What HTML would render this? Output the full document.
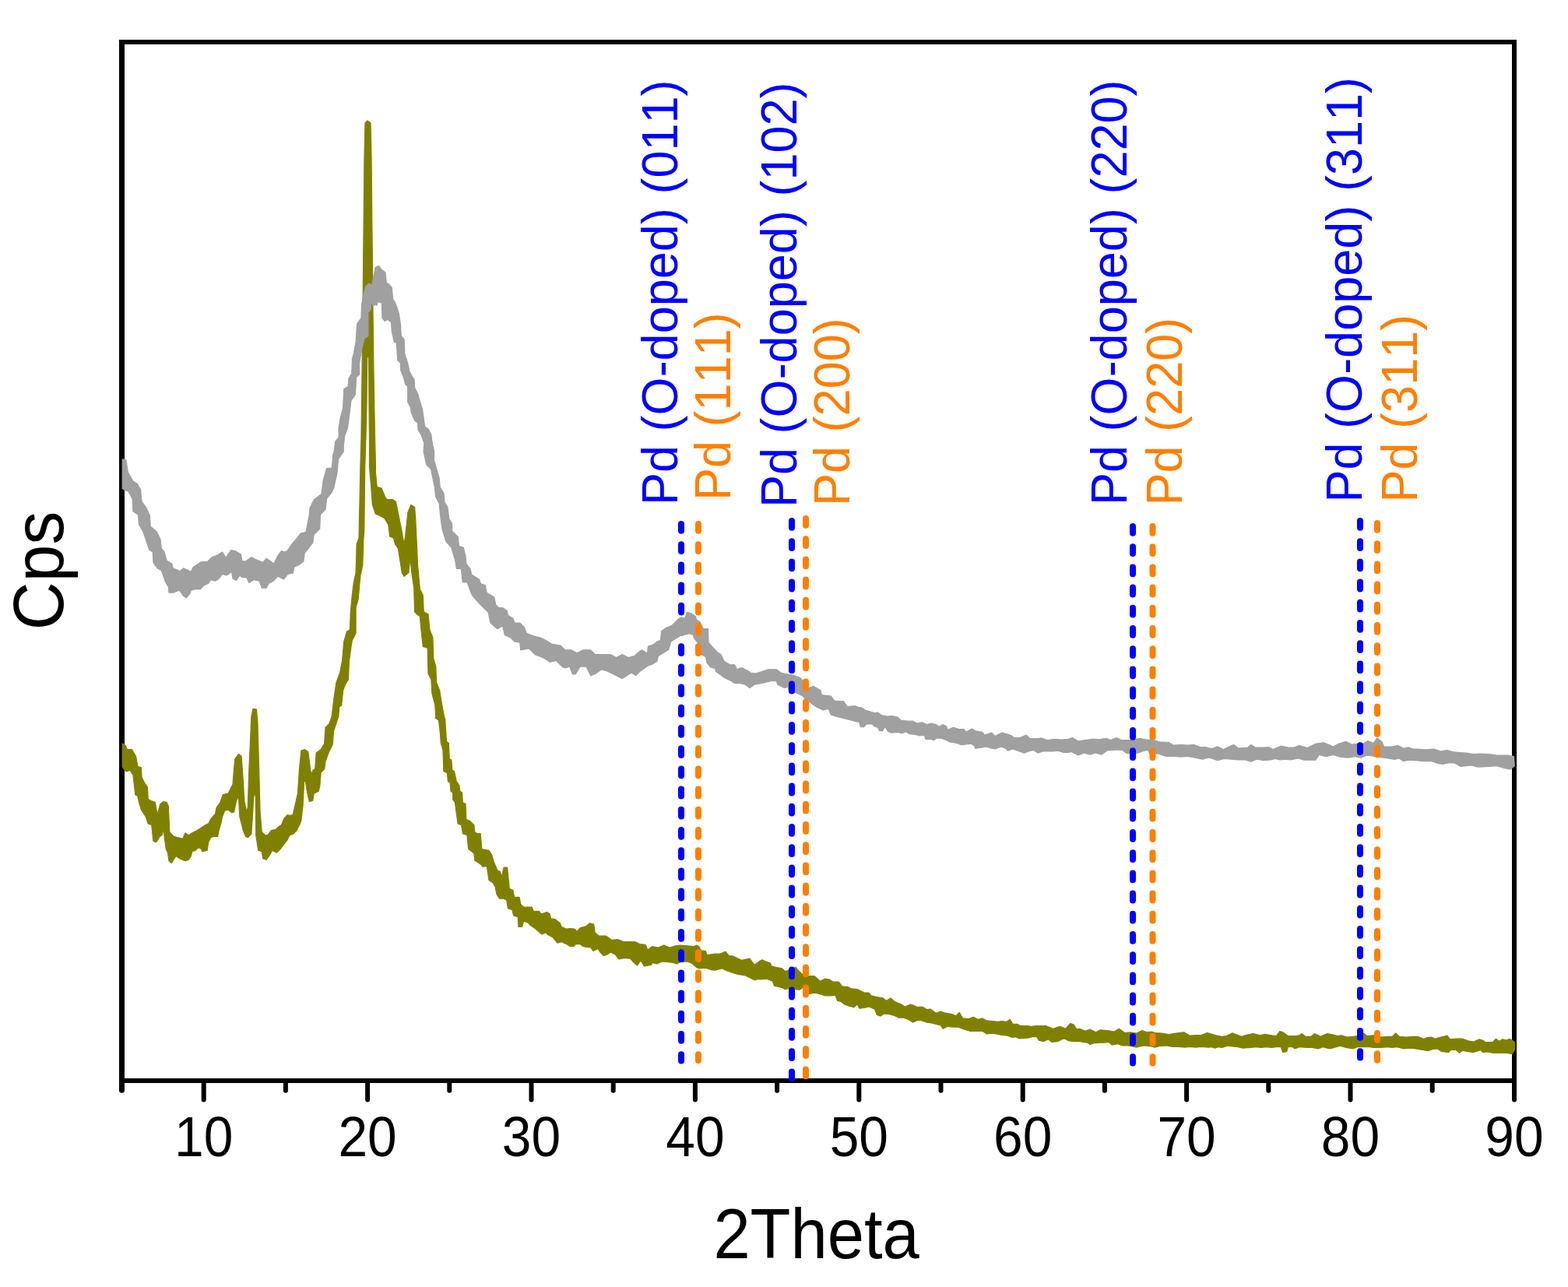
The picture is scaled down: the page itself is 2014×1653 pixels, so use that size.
<!DOCTYPE html>
<html><head><meta charset="utf-8"><title>XRD</title>
<style>
html,body{margin:0;padding:0;background:#fff;}
svg{display:block;}
text{font-family:"Liberation Sans",Arial,Helvetica,sans-serif;font-kerning:none;font-feature-settings:"kern" 0;}
</style></head>
<body>
<svg width="2014" height="1653" viewBox="0 0 2014 1653">
<rect width="2014" height="1653" fill="#fff"/>
<g fill="#000">
<rect x="153" y="51" width="7" height="1340"/>
<rect x="1942" y="51" width="6" height="1340"/>
<rect x="153" y="51" width="1795" height="6"/>
<rect x="153" y="1385" width="1795" height="6"/>
</g>
<g stroke="#000" stroke-width="6" stroke-linecap="round">
<line x1="261.70" y1="1388" x2="261.70" y2="1412.6"/><line x1="366.90" y1="1388" x2="366.90" y2="1400.7"/><line x1="472.10" y1="1388" x2="472.10" y2="1412.6"/><line x1="577.30" y1="1388" x2="577.30" y2="1400.7"/><line x1="682.50" y1="1388" x2="682.50" y2="1412.6"/><line x1="787.70" y1="1388" x2="787.70" y2="1400.7"/><line x1="892.90" y1="1388" x2="892.90" y2="1412.6"/><line x1="998.10" y1="1388" x2="998.10" y2="1400.7"/><line x1="1103.30" y1="1388" x2="1103.30" y2="1412.6"/><line x1="1208.50" y1="1388" x2="1208.50" y2="1400.7"/><line x1="1313.70" y1="1388" x2="1313.70" y2="1412.6"/><line x1="1418.90" y1="1388" x2="1418.90" y2="1400.7"/><line x1="1524.10" y1="1388" x2="1524.10" y2="1412.6"/><line x1="1629.30" y1="1388" x2="1629.30" y2="1400.7"/><line x1="1734.50" y1="1388" x2="1734.50" y2="1412.6"/><line x1="1839.70" y1="1388" x2="1839.70" y2="1400.7"/><line x1="156.5" y1="1388" x2="156.5" y2="1400.2" stroke-width="7"/><line x1="1945" y1="1388" x2="1945" y2="1412.6"/>
</g>
<polygon fill="#808000" stroke="#808000" stroke-width="1.2" stroke-linejoin="round" points="157.2,955.1 161.2,957.4 163.4,962.6 169.4,962.6 174.6,971.5 176.8,984.2 181.3,985.7 182.0,998.3 185.8,1005.8 189.5,1011.0 190.2,1026.6 194.7,1028.9 199.2,1030.3 202.1,1046.0 205.9,1032.6 209.6,1029.6 214.1,1030.3 216.3,1035.6 217.8,1068.3 223.0,1074.3 229.0,1075.8 234.9,1077.3 237.9,1069.8 242.4,1072.8 246.8,1069.8 252.8,1066.8 257.3,1063.9 263.2,1060.1 267.7,1057.9 270.7,1051.9 276.6,1045.2 278.1,1037.0 282.6,1031.1 286.3,1020.7 293.0,1019.2 296.0,1013.2 299.0,1007.3 300.5,987.9 301.9,974.5 306.4,968.5 310.1,971.5 312.4,1004.3 313.9,1029.6 316.8,1043.0 318.3,1037.0 319.8,989.4 321.3,956.6 322.8,920.9 325.0,910.4 329.5,911.2 331.0,929.8 332.5,983.4 334.0,1041.5 336.2,1068.3 340.7,1072.8 343.7,1072.8 348.1,1066.8 354.1,1065.4 357.1,1062.4 361.5,1059.4 364.5,1051.9 369.0,1046.7 373.4,1047.5 376.4,1046.0 379.4,1032.6 382.4,1019.2 384.6,986.4 386.9,964.1 391.3,962.6 395.8,965.5 398.8,989.4 400.3,995.3 401.8,989.4 404.7,987.9 406.2,967.0 412.2,962.6 416.6,955.1 418.1,934.3 422.6,929.8 425.6,922.3 426.1,920.0 429.0,896.2 431.9,876.9 436.8,863.3 439.7,847.8 441.6,824.6 445.5,811.0 449.4,809.1 450.3,785.9 452.3,764.6 454.2,749.1 457.1,735.5 457.7,716.2 458.1,698.7 461.0,691.0 462.0,644.5 462.9,600.0 464.0,560.0 465.0,480.0 466.0,400.0 467.0,300.0 468.0,200.0 469.0,158.0 472.0,155.0 476.0,158.0 477.0,200.0 478.0,300.0 479.0,400.0 480.0,480.0 481.5,560.0 482.5,600.0 482.3,605.8 484.2,625.2 490.0,627.1 494.9,638.7 496.8,641.6 504.5,641.6 508.4,644.5 511.3,658.1 516.2,683.3 519.1,699.7 521.0,685.2 523.9,658.1 527.8,648.4 532.6,651.3 533.6,663.9 535.5,702.6 536.5,725.8 539.4,756.8 543.3,764.6 544.2,785.9 550.0,788.8 552.0,809.1 555.9,818.8 556.8,845.9 559.7,855.6 560.7,876.9 564.6,886.5 567.5,904.0 570.4,920.0 571.7,923.6 573.5,952.6 576.3,954.4 577.2,974.4 579.9,976.2 580.8,988.9 583.5,990.7 586.2,1003.4 589.9,1008.9 590.8,1016.2 593.5,1018.0 594.4,1030.7 598.0,1032.5 598.9,1052.5 603.5,1054.3 608.9,1059.7 609.8,1068.8 612.6,1070.6 617.1,1070.6 618.9,1090.6 628.0,1092.4 631.6,1097.8 634.3,1106.9 638.9,1117.8 642.5,1119.6 644.3,1126.9 647.0,1114.2 651.6,1114.2 654.3,1141.4 658.8,1143.2 660.7,1152.3 667.0,1152.3 668.8,1161.3 672.5,1165.0 683.3,1165.0 685.2,1170.4 692.4,1170.4 695.1,1174.0 702.3,1171.6 706.1,1173.8 707.6,1179.8 712.8,1180.5 719.5,1185.8 721.0,1190.2 727.7,1193.2 732.1,1192.5 738.1,1193.2 741.1,1196.2 745.5,1191.7 753.0,1189.5 757.5,1185.8 762.7,1187.2 764.2,1197.7 769.4,1202.1 778.3,1202.1 785.8,1207.4 793.2,1206.6 800.7,1209.6 808.1,1209.6 815.6,1209.6 821.5,1212.6 829.0,1213.3 831.9,1220.0 837.9,1215.5 845.4,1217.0 852.8,1214.1 860.2,1217.0 867.7,1214.8 873.7,1214.1 882.6,1214.8 891.5,1215.5 894.5,1214.1 897.5,1215.5 900.5,1220.8 906.4,1221.5 907.9,1226.7 918.3,1225.2 924.3,1225.2 931.8,1222.2 936.2,1227.5 942.2,1228.2 948.1,1231.2 952.6,1233.4 963.0,1231.2 969.0,1239.4 976.0,1234.2 978.9,1232.7 983.4,1234.9 989.4,1237.1 990.9,1240.9 996.8,1242.3 1004.3,1243.8 1008.7,1247.6 1014.7,1245.3 1022.1,1242.3 1025.1,1246.1 1031.1,1252.0 1038.5,1253.5 1046.0,1253.5 1053.4,1260.2 1059.4,1257.2 1065.3,1258.0 1069.8,1261.0 1077.3,1261.0 1081.7,1266.9 1089.2,1267.7 1093.6,1269.9 1101.1,1270.6 1110.0,1275.1 1116.0,1275.1 1119.0,1278.8 1124.9,1280.3 1133.9,1281.8 1138.3,1285.5 1144.3,1281.8 1148.8,1286.3 1157.7,1290.0 1162.2,1293.0 1169.6,1290.0 1174.1,1291.5 1178.6,1293.7 1184.5,1293.0 1190.5,1296.7 1194.9,1296.0 1202.4,1301.2 1208.3,1299.0 1214.3,1301.2 1223.2,1302.7 1227.7,1304.9 1232.2,1300.4 1236.6,1307.9 1244.1,1308.6 1250.1,1306.4 1256.0,1309.4 1262.0,1307.9 1267.4,1310.9 1274.9,1311.6 1282.3,1312.3 1286.8,1311.6 1292.8,1312.3 1297.2,1309.4 1301.0,1315.3 1306.2,1315.3 1310.6,1317.6 1319.6,1317.6 1324.1,1318.3 1331.5,1317.6 1343.4,1317.6 1352.4,1321.3 1361.3,1318.3 1368.7,1321.3 1374.7,1314.6 1379.2,1316.1 1382.9,1322.0 1386.6,1321.3 1394.1,1324.3 1400.0,1322.0 1407.5,1325.8 1413.4,1322.8 1422.4,1323.5 1431.3,1325.0 1437.3,1321.3 1444.7,1326.5 1452.2,1325.8 1459.6,1327.2 1467.1,1323.5 1473.0,1325.8 1479.0,1325.0 1483.4,1326.5 1492.4,1327.2 1501.3,1328.7 1510.3,1327.2 1520.7,1325.8 1528.1,1330.2 1537.1,1329.5 1543.0,1329.5 1550.5,1326.5 1561.9,1329.8 1569.4,1331.3 1575.3,1330.5 1582.8,1326.8 1588.7,1329.0 1594.7,1331.3 1602.1,1329.0 1609.6,1327.6 1618.5,1329.8 1624.5,1328.3 1633.4,1329.8 1639.4,1330.5 1643.8,1324.6 1648.3,1326.1 1654.3,1330.5 1663.2,1330.5 1669.2,1329.8 1672.2,1327.6 1676.6,1331.3 1684.1,1331.3 1688.5,1327.6 1696.0,1331.3 1704.9,1327.6 1712.4,1329.0 1718.3,1330.5 1722.8,1329.8 1730.2,1332.0 1737.7,1331.3 1743.7,1330.5 1751.1,1326.8 1755.6,1330.5 1764.5,1329.8 1773.4,1332.0 1782.4,1331.3 1788.3,1331.3 1792.8,1326.8 1797.3,1331.3 1806.2,1332.0 1815.2,1331.3 1821.1,1331.3 1828.6,1334.6 1833.4,1332.6 1838.9,1332.2 1843.7,1334.2 1848.5,1332.6 1854.0,1331.4 1858.8,1330.2 1862.7,1334.9 1869.9,1334.2 1878.6,1334.2 1885.8,1336.9 1892.9,1338.1 1900.1,1334.9 1905.6,1336.5 1907.2,1338.5 1917.6,1338.5 1921.5,1334.2 1925.5,1337.3 1930.3,1334.9 1935.0,1336.1 1939.0,1334.2 1943.0,1336.5 1945.8,1338.9 1945.8,1347.7 1942.2,1353.6 1935.0,1352.4 1930.3,1352.4 1923.9,1352.4 1917.6,1352.4 1911.2,1350.8 1904.8,1351.6 1901.7,1348.8 1897.7,1350.0 1892.1,1351.6 1884.2,1350.4 1878.6,1349.2 1874.7,1352.4 1869.9,1348.5 1863.5,1348.5 1860.4,1351.6 1851.6,1350.4 1846.1,1346.9 1839.7,1347.7 1834.2,1349.6 1827.0,1348.5 1818.1,1346.9 1812.2,1346.2 1803.2,1346.9 1794.3,1344.7 1788.3,1345.4 1782.4,1344.7 1773.4,1345.4 1764.5,1345.4 1758.6,1344.7 1749.6,1344.7 1743.7,1344.7 1737.7,1346.9 1728.8,1345.4 1721.3,1343.2 1713.9,1345.4 1707.9,1346.9 1699.0,1344.7 1693.0,1346.9 1685.6,1345.4 1678.1,1345.4 1669.2,1344.7 1663.2,1346.9 1660.2,1344.7 1654.3,1344.7 1652.8,1350.6 1647.6,1351.4 1645.3,1344.7 1639.4,1344.7 1633.4,1345.4 1626.0,1344.7 1620.0,1345.4 1612.6,1344.7 1606.6,1345.4 1596.2,1346.2 1590.2,1344.7 1582.8,1343.9 1576.8,1343.2 1569.4,1345.4 1564.9,1344.7 1560.4,1346.2 1556.0,1344.7 1552.0,1345.1 1543.0,1344.4 1535.6,1345.1 1528.1,1344.4 1522.2,1345.1 1513.2,1344.4 1505.8,1344.4 1498.3,1342.9 1489.4,1343.6 1483.4,1345.1 1477.5,1343.6 1468.6,1342.9 1459.6,1345.1 1453.7,1343.6 1447.7,1342.9 1441.7,1342.9 1435.8,1340.6 1428.3,1342.1 1423.9,1338.4 1417.9,1339.2 1411.9,1339.2 1404.5,1339.9 1400.0,1341.4 1397.0,1339.2 1391.1,1338.4 1386.6,1337.7 1379.2,1337.7 1373.2,1336.9 1367.3,1333.9 1364.3,1334.7 1358.3,1337.7 1350.9,1338.4 1346.4,1334.7 1340.4,1337.7 1334.5,1336.2 1331.5,1331.7 1325.5,1331.7 1319.6,1333.2 1309.2,1333.9 1304.7,1331.7 1300.2,1332.5 1294.3,1330.2 1286.8,1329.5 1279.4,1328.0 1274.9,1327.2 1267.4,1328.0 1262.0,1324.3 1253.0,1324.3 1245.6,1324.3 1238.1,1322.0 1230.7,1319.1 1223.2,1319.1 1217.3,1318.3 1211.3,1321.3 1208.3,1316.8 1202.4,1315.3 1196.4,1313.8 1190.5,1313.1 1184.5,1310.9 1178.6,1310.1 1172.6,1313.1 1166.6,1309.4 1160.7,1307.1 1154.7,1307.1 1150.2,1304.9 1142.8,1302.7 1135.4,1301.9 1130.9,1304.9 1126.4,1303.4 1123.4,1296.0 1116.0,1293.0 1110.0,1294.5 1104.1,1295.2 1101.1,1290.0 1096.6,1293.7 1090.7,1292.2 1084.7,1290.0 1080.2,1286.3 1075.8,1285.5 1072.8,1278.1 1066.8,1278.8 1059.4,1278.8 1053.4,1276.6 1046.0,1275.1 1038.5,1276.6 1035.5,1269.2 1031.1,1268.4 1026.6,1271.4 1022.1,1270.6 1014.7,1269.2 1008.7,1270.6 1004.3,1268.4 994.6,1266.2 992.3,1260.2 984.9,1257.2 976.0,1258.0 975.0,1257.3 969.0,1258.7 963.0,1255.8 957.1,1252.8 948.1,1251.3 940.7,1249.1 933.2,1246.8 927.3,1243.8 918.3,1246.1 912.4,1245.3 906.4,1243.1 897.5,1243.8 894.5,1242.4 888.6,1237.1 882.6,1234.9 873.7,1235.7 869.2,1237.9 864.7,1236.4 858.8,1235.7 849.8,1234.9 843.9,1237.9 837.9,1236.4 836.4,1239.4 831.9,1240.1 827.5,1240.9 823.0,1233.4 818.5,1240.1 814.1,1236.4 809.6,1231.2 802.2,1230.4 794.7,1231.9 790.2,1226.0 784.3,1223.0 779.8,1226.0 775.3,1227.5 770.9,1223.0 767.9,1218.5 761.9,1221.5 759.0,1217.0 753.0,1216.3 748.5,1215.5 745.5,1212.6 739.6,1212.6 736.6,1215.5 732.1,1215.5 727.7,1212.6 721.7,1209.6 715.8,1211.1 709.8,1203.6 703.8,1200.6 700.9,1197.7 696.0,1200.0 687.0,1192.2 681.5,1188.6 677.9,1184.9 672.5,1183.1 670.6,1190.4 666.1,1190.4 665.2,1177.7 659.7,1175.9 657.9,1168.6 652.5,1166.8 650.7,1155.9 647.0,1154.1 641.6,1154.1 638.0,1148.6 636.2,1139.6 633.4,1134.1 628.0,1130.5 625.3,1112.3 619.8,1113.2 618.0,1110.5 609.8,1105.1 608.9,1096.0 601.7,1090.6 599.9,1072.4 594.4,1070.6 592.6,1059.7 588.1,1057.9 584.4,1030.7 581.7,1027.0 581.7,1018.0 579.0,1016.2 578.1,1005.3 575.4,1003.4 574.4,992.6 569.9,990.7 569.0,963.5 566.3,954.4 565.4,941.7 563.6,925.4 559.0,921.8 559.7,920.0 558.8,905.9 554.9,890.4 553.9,873.0 550.0,865.2 549.1,832.3 543.3,830.4 541.3,813.0 539.4,791.7 535.5,788.8 532.6,785.9 531.7,754.9 528.8,735.5 526.8,716.2 524.9,735.5 519.1,740.4 516.2,735.5 514.2,722.0 511.3,704.5 507.5,698.7 505.5,691.0 500.7,689.1 498.7,673.6 493.9,665.8 487.1,662.0 482.3,660.0 478.4,648.4 476.5,623.2 474.5,600.0 474.5,560.0 474.0,520.0 473.6,460.0 472.5,455.0 471.6,460.0 471.0,520.0 470.0,560.0 468.7,600.0 467.8,681.3 466.8,692.9 465.8,725.8 462.9,739.4 460.0,770.4 457.1,780.1 457.1,813.0 452.3,822.7 451.3,828.5 448.4,849.8 447.4,873.0 443.6,878.8 440.7,886.5 438.7,905.9 435.8,907.8 434.8,920.0 428.6,938.7 427.1,956.6 422.6,965.5 418.1,977.5 416.6,987.9 412.2,992.4 410.7,1010.2 409.2,1016.2 403.2,1019.2 401.8,1028.1 397.3,1029.6 394.3,1016.2 392.1,1001.3 390.6,1004.3 389.1,1034.1 386.9,1053.4 385.4,1057.9 380.9,1066.8 376.4,1071.3 372.0,1072.8 369.0,1078.8 364.5,1084.7 360.0,1090.7 355.6,1095.1 352.6,1093.7 349.6,1092.2 346.6,1098.1 342.2,1104.1 337.7,1102.6 336.2,1093.7 331.7,1092.2 328.8,1072.8 328.3,1023.6 327.3,1017.7 325.8,1023.6 324.3,1050.5 322.8,1071.3 318.3,1075.8 315.4,1074.3 312.4,1066.8 307.9,1049.0 306.4,1022.2 303.4,1029.6 300.5,1043.0 297.5,1043.8 293.0,1040.0 288.5,1041.5 285.6,1049.0 284.1,1056.4 281.1,1066.8 279.6,1074.3 275.1,1074.3 270.7,1075.8 267.7,1081.7 266.2,1092.2 260.2,1093.7 257.3,1089.2 254.3,1089.2 251.3,1092.2 246.8,1093.7 245.3,1099.6 242.4,1104.1 237.9,1105.6 230.4,1102.6 226.0,1099.6 223.0,1104.1 220.0,1108.6 217.0,1105.6 215.5,1095.1 213.3,1090.7 211.1,1074.3 209.6,1063.9 208.1,1072.8 205.1,1074.3 203.6,1077.3 200.6,1081.7 196.9,1080.2 194.7,1059.4 190.2,1057.9 187.2,1049.0 181.3,1040.0 178.3,1029.6 176.8,1022.2 173.8,1020.7 170.9,995.3 167.1,989.4 161.9,990.9 160.4,989.4 157.2,984.9"/>
<g stroke-width="8" stroke-linecap="round" stroke-dasharray="8.8 17.4">
<line x1="875" y1="673" x2="875" y2="1362.5" stroke="#0000FF"/>
</g>
<polygon fill="#A0A0A0" stroke="#A0A0A0" stroke-width="1.2" stroke-linejoin="round" points="157.2,589.8 161.9,590.5 164.2,606.2 170.9,618.1 176.1,621.1 180.5,628.5 182.0,644.2 188.0,652.4 192.5,662.8 193.2,676.2 201.4,682.9 205.9,692.6 207.4,704.5 211.1,709.0 214.1,720.1 220.8,723.9 222.2,729.8 231.2,733.5 235.7,729.8 245.3,734.3 248.3,728.3 258.7,721.6 266.2,721.6 272.2,715.7 279.6,712.7 285.6,709.0 290.0,716.4 296.7,706.7 301.9,707.5 309.4,711.9 310.9,720.9 315.4,720.9 322.8,715.7 330.2,719.4 337.7,722.4 342.2,717.2 351.8,723.9 357.1,713.4 361.5,707.5 366.0,709.0 369.7,706.7 375.7,697.8 381.6,691.1 386.1,685.1 392.8,683.6 397.3,661.3 398.0,652.4 403.2,641.9 412.9,634.5 415.2,616.6 419.6,601.7 426.3,601.0 427.8,583.8 429.1,580.1 430.6,567.5 435.1,561.5 435.1,549.4 437.4,535.7 440.4,525.2 441.9,499.4 447.2,496.4 448.0,485.8 451.8,479.8 452.5,460.1 454.0,455.6 457.1,438.9 458.6,416.2 463.9,408.7 464.6,390.5 467.7,375.4 469.9,367.8 473.7,364.0 477.5,366.3 479.8,355.7 482.0,343.6 486.6,341.3 490.3,346.6 494.9,349.7 496.4,363.3 499.4,364.8 503.2,369.3 504.7,384.5 507.0,387.5 510.0,395.1 512.3,402.6 514.6,417.7 515.3,431.4 519.1,435.9 519.8,454.1 523.6,466.2 525.9,476.7 528.9,482.8 532.0,487.3 532.7,497.9 536.5,505.5 539.5,516.1 542.5,525.2 545.6,547.9 550.1,550.9 553.9,558.4 554.6,566.0 557.7,580.1 557.4,591.0 564.2,614.2 565.2,625.8 570.0,633.5 571.0,645.2 574.8,651.0 576.8,666.4 580.6,672.3 580.6,681.9 588.4,689.7 589.4,701.3 595.2,703.2 598.1,714.8 599.0,724.5 603.9,730.3 605.8,738.1 615.5,743.9 617.4,749.7 623.2,751.6 625.2,761.3 634.8,767.1 636.8,776.8 640.6,780.6 645.5,780.6 651.3,784.5 652.3,790.3 659.0,794.2 661.0,800.0 667.7,800.0 673.5,805.8 676.4,813.5 687.1,817.4 694.8,819.3 702.6,823.2 708.4,827.1 720.0,829.0 725.8,834.8 733.5,834.8 741.3,838.7 749.0,834.8 758.7,834.8 764.5,840.6 772.2,840.6 783.9,840.6 791.6,844.5 799.3,840.6 807.1,844.5 814.8,842.6 818.7,838.7 824.5,834.8 831.2,839.0 832.7,830.0 839.4,827.8 843.8,824.1 848.3,822.6 849.8,810.6 855.8,806.2 863.2,803.2 870.6,795.8 875.1,792.8 879.6,794.3 882.6,786.1 887.0,787.6 893.0,791.3 894.5,795.8 899.0,798.7 903.4,807.7 909.4,807.7 910.1,825.5 916.8,833.0 921.3,837.5 925.8,840.4 930.2,849.4 937.7,853.8 943.6,853.8 946.6,859.8 952.6,857.6 960.0,861.3 964.5,864.3 970.5,865.0 977.9,862.8 986.8,859.8 997.3,859.8 1003.2,864.3 1010.7,865.8 1019.6,867.3 1028.6,871.0 1033.0,877.7 1039.0,883.6 1044.9,881.4 1053.9,886.6 1055.4,892.6 1067.3,894.1 1071.8,900.0 1083.7,900.8 1088.1,907.5 1098.6,906.7 1102.3,908.3 1106.8,909.0 1111.3,912.0 1118.7,914.3 1123.2,915.8 1127.7,915.0 1132.1,918.7 1139.6,920.2 1145.5,919.5 1153.0,921.0 1157.5,925.4 1166.4,926.2 1172.4,926.2 1178.3,929.2 1184.3,927.7 1190.2,930.6 1196.2,929.2 1202.2,930.6 1206.6,933.6 1211.1,930.6 1215.6,932.9 1217.0,937.4 1224.5,934.4 1231.9,936.6 1237.9,936.6 1240.9,940.3 1248.3,935.9 1252.8,938.8 1261.7,940.3 1264.7,944.1 1273.7,941.1 1278.1,945.5 1287.1,941.1 1297.5,944.1 1302.0,947.0 1309.4,947.8 1318.3,944.1 1322.8,948.5 1333.2,948.5 1337.7,947.8 1345.2,950.8 1354.1,949.3 1363.0,950.0 1372.0,949.3 1377.4,947.6 1384.9,952.0 1393.8,950.5 1404.3,949.0 1411.7,949.8 1420.6,948.3 1426.6,950.5 1434.1,947.6 1440.0,950.5 1453.4,950.5 1463.8,948.3 1471.3,949.8 1481.7,950.5 1489.2,952.8 1501.1,953.5 1507.0,957.2 1517.5,956.5 1524.9,957.2 1533.9,956.5 1541.3,959.5 1548.8,959.5 1556.2,961.7 1563.7,958.7 1571.1,962.5 1584.5,956.5 1590.5,961.0 1602.4,960.2 1606.9,956.5 1612.8,960.2 1623.2,960.2 1629.2,959.5 1635.2,962.5 1645.6,958.0 1654.5,960.2 1662.0,960.2 1668.9,957.6 1679.4,960.5 1689.8,955.3 1700.2,953.8 1707.7,956.8 1712.1,959.0 1719.6,955.3 1728.5,952.3 1736.0,956.1 1743.4,955.3 1750.9,955.3 1756.8,951.6 1764.3,954.6 1768.7,947.9 1774.7,952.3 1777.7,959.0 1786.6,959.0 1795.6,957.6 1803.0,961.3 1809.0,959.8 1814.9,962.0 1820.9,962.0 1831.3,962.8 1841.7,962.0 1850.7,965.0 1858.1,963.5 1867.1,965.8 1874.5,966.5 1883.4,967.2 1892.4,968.7 1901.3,968.0 1913.2,968.7 1922.2,970.2 1937.1,970.2 1944.5,971.7 1945.3,983.6 1940.1,988.1 1932.6,986.6 1922.2,983.6 1913.2,984.4 1898.3,985.1 1889.4,982.9 1876.0,984.4 1868.6,979.9 1859.6,979.9 1853.7,981.4 1847.7,980.6 1838.8,977.7 1828.3,977.7 1820.9,976.9 1809.0,976.2 1803.0,977.7 1797.0,973.9 1791.1,975.4 1777.7,973.2 1770.2,972.5 1762.8,971.0 1755.3,970.2 1747.9,973.2 1740.4,971.7 1731.5,973.2 1722.6,972.5 1712.1,969.5 1703.2,971.7 1694.3,969.5 1689.8,976.2 1674.9,976.2 1667.4,973.9 1657.5,975.9 1650.1,975.1 1644.1,975.9 1638.1,974.4 1632.2,975.9 1623.2,976.6 1614.3,975.1 1606.9,978.1 1599.4,975.9 1590.5,975.9 1581.5,975.1 1572.6,974.4 1563.7,976.6 1553.2,972.9 1544.3,975.1 1533.9,972.9 1526.4,971.4 1516.0,972.1 1508.5,971.4 1498.1,971.4 1486.2,967.7 1477.3,969.2 1474.3,963.2 1468.3,964.7 1459.4,967.7 1447.5,967.7 1441.5,963.2 1432.6,963.2 1422.1,963.9 1414.7,969.2 1407.2,966.9 1399.8,969.2 1392.3,966.9 1384.9,969.9 1376.0,965.4 1372.0,966.4 1366.0,966.4 1358.6,964.2 1352.6,964.9 1345.2,964.9 1339.2,964.9 1333.2,967.1 1327.3,963.4 1321.3,964.9 1315.4,967.1 1309.4,964.9 1300.5,961.9 1294.5,964.2 1291.5,961.2 1285.6,959.0 1278.1,961.9 1273.7,961.2 1266.2,959.0 1258.8,960.4 1252.8,961.2 1251.3,957.5 1246.8,955.2 1240.9,956.0 1234.9,956.7 1229.0,954.5 1220.0,953.0 1215.6,950.8 1209.6,948.5 1203.6,947.8 1199.2,950.8 1194.7,949.3 1188.7,949.3 1187.3,944.1 1181.3,944.8 1175.3,943.3 1167.9,942.6 1163.4,939.6 1159.0,941.8 1153.0,940.3 1145.5,941.1 1141.1,939.6 1136.6,933.6 1133.6,938.8 1129.2,938.1 1127.7,934.4 1123.2,932.9 1120.2,929.9 1112.8,929.9 1109.8,933.6 1105.3,933.6 1103.8,927.7 1073.2,920.0 1067.3,917.9 1064.3,910.5 1056.9,911.9 1047.9,907.5 1042.0,903.0 1034.5,898.5 1031.5,894.1 1022.6,889.6 1013.7,889.6 1012.2,882.2 1007.7,883.6 998.8,879.2 997.3,874.7 989.8,874.7 983.9,876.2 977.9,877.7 969.0,879.2 963.0,883.6 957.0,879.2 951.1,877.7 943.6,877.7 939.2,874.7 930.2,870.2 924.3,865.8 919.8,862.8 918.3,858.3 912.4,856.8 907.9,850.9 906.4,843.4 900.4,840.4 896.0,825.5 891.5,819.6 890.0,815.1 885.5,813.6 879.6,815.1 873.6,816.6 869.2,819.6 861.7,824.1 858.7,834.5 851.3,839.0 845.3,842.7 843.8,849.4 837.9,853.1 831.9,855.3 822.6,861.9 816.8,867.7 811.0,863.9 805.1,867.7 799.3,871.6 787.7,865.8 780.0,861.9 772.2,860.0 764.5,865.8 758.7,867.7 752.9,856.1 745.1,856.1 739.3,865.8 735.5,865.8 731.6,856.1 725.8,858.0 721.9,856.1 714.2,848.4 706.4,850.3 700.6,846.4 696.8,844.5 687.1,840.6 679.3,832.9 668.7,834.8 667.7,825.1 661.0,824.2 656.1,819.3 648.4,815.5 645.5,803.9 638.7,807.7 630.0,800.0 627.1,786.4 619.3,778.7 615.5,774.8 607.7,766.1 605.8,763.2 600.0,747.7 594.2,747.7 592.3,730.3 586.4,730.3 584.5,718.7 579.7,703.2 572.9,695.5 568.1,680.0 566.1,666.4 564.2,647.1 559.4,637.4 558.4,625.8 553.5,602.6 547.7,596.8 544.1,580.1 544.8,569.0 541.0,558.4 537.2,552.4 536.5,543.3 532.7,540.3 528.2,529.7 527.4,523.6 523.6,516.1 523.6,496.4 520.6,493.4 518.3,484.3 514.6,475.2 514.6,466.2 510.8,463.1 509.3,440.4 506.2,438.9 503.2,425.3 502.5,414.0 497.9,410.2 494.1,412.5 491.1,408.7 490.3,389.0 485.1,387.5 484.3,392.0 479.0,392.0 476.7,387.5 476.0,398.1 473.0,401.1 473.0,431.4 468.4,434.4 465.4,445.0 461.6,466.2 461.6,481.3 457.8,484.3 456.3,507.0 451.0,514.6 448.4,535.7 446.5,549.4 442.7,560.0 441.2,573.6 441.2,580.1 434.5,589.8 433.0,607.7 428.6,627.0 425.6,633.0 419.6,640.4 418.1,653.8 411.4,661.3 410.7,679.2 403.2,686.6 401.8,697.0 397.3,703.0 391.3,710.5 389.8,720.9 383.9,725.4 377.9,728.3 376.4,735.8 369.7,737.3 364.5,744.0 357.1,740.2 351.1,746.2 345.1,749.2 342.2,755.1 336.2,755.1 333.2,746.2 325.8,744.7 319.8,748.4 316.8,741.7 310.9,741.7 307.9,738.8 303.4,745.5 299.0,743.2 297.5,734.3 291.5,738.8 285.6,737.3 281.1,743.2 276.6,746.2 270.7,744.7 267.7,749.2 261.7,752.2 257.3,756.6 251.3,756.6 245.3,758.1 243.8,762.6 239.4,767.8 235.7,765.6 230.4,758.1 226.0,759.6 223.0,761.1 217.0,761.1 216.3,753.7 212.6,747.7 207.4,732.8 202.1,729.8 196.9,722.4 196.2,709.0 191.7,706.0 187.2,692.6 183.5,682.2 178.3,673.2 177.6,661.3 170.9,656.8 170.1,640.4 164.9,631.5 157.2,627.8"/>
<g stroke-width="8" stroke-linecap="round" stroke-dasharray="8.8 17.4">
<line x1="897" y1="673" x2="897" y2="1362" stroke="#FF8000"/><line x1="1017" y1="669" x2="1017" y2="1385.7" stroke="#0000FF"/><line x1="1035" y1="666" x2="1035" y2="1383" stroke="#FF8000"/><line x1="1455" y1="676" x2="1455" y2="1365.6" stroke="#0000FF"/><line x1="1480.5" y1="676" x2="1480.5" y2="1365.6" stroke="#FF8000"/><line x1="1747" y1="669" x2="1747" y2="1358.5" stroke="#0000FF"/><line x1="1769" y1="672" x2="1769" y2="1361.8" stroke="#FF8000"/>
</g>
<g font-size="72" fill="#000">
<text x="0" y="0" transform="translate(261.70,1485) scale(0.94,1)" text-anchor="middle">10</text><text x="0" y="0" transform="translate(472.10,1485) scale(0.94,1)" text-anchor="middle">20</text><text x="0" y="0" transform="translate(682.50,1485) scale(0.94,1)" text-anchor="middle">30</text><text x="0" y="0" transform="translate(892.90,1485) scale(0.94,1)" text-anchor="middle">40</text><text x="0" y="0" transform="translate(1103.30,1485) scale(0.94,1)" text-anchor="middle">50</text><text x="0" y="0" transform="translate(1313.70,1485) scale(0.94,1)" text-anchor="middle">60</text><text x="0" y="0" transform="translate(1524.10,1485) scale(0.94,1)" text-anchor="middle">70</text><text x="0" y="0" transform="translate(1734.50,1485) scale(0.94,1)" text-anchor="middle">80</text><text x="0" y="0" transform="translate(1944.90,1485) scale(0.94,1)" text-anchor="middle">90</text>
</g>
<text transform="translate(1048.6,1616) scale(0.944,1)" text-anchor="middle" font-size="90" fill="#000">2Theta</text>
<text transform="translate(81,733) rotate(-90) scale(0.953,1)" text-anchor="middle" font-size="90" fill="#000">Cps</text>
<g font-size="65">
<text transform="translate(870,649) rotate(-90) scale(0.97,1)" fill="#0000FF">Pd (O-doped) (011)</text><text transform="translate(938,643) rotate(-90) scale(0.97,1)" fill="#FF8000">Pd (111)</text><text transform="translate(1023,652) rotate(-90) scale(0.97,1)" fill="#0000FF">Pd (O-doped) (102)</text><text transform="translate(1091,650) rotate(-90) scale(0.97,1)" fill="#FF8000">Pd (200)</text><text transform="translate(1447,649) rotate(-90) scale(0.97,1)" fill="#0000FF">Pd (O-doped) (220)</text><text transform="translate(1518,649.5) rotate(-90) scale(0.97,1)" fill="#FF8000">Pd (220)</text><text transform="translate(1749,645.5) rotate(-90) scale(0.97,1)" fill="#0000FF">Pd (O-doped) (311)</text><text transform="translate(1820,645.5) rotate(-90) scale(0.97,1)" fill="#FF8000">Pd (311)</text>
</g>
</svg>
</body></html>
